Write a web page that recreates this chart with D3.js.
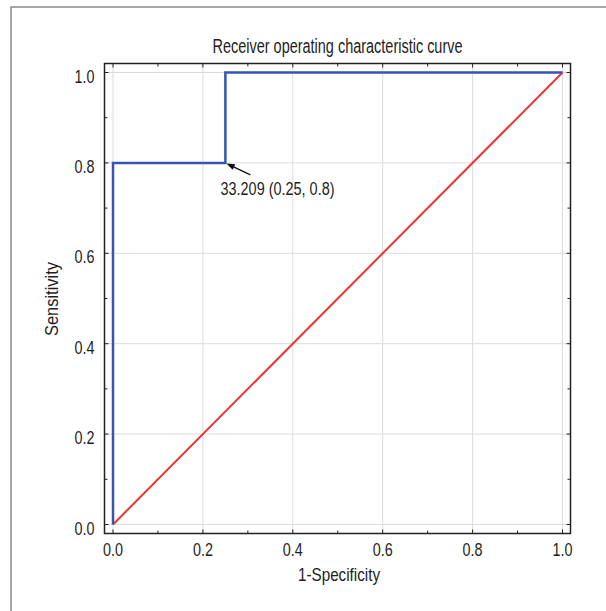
<!DOCTYPE html>
<html>
<head>
<meta charset="utf-8">
<script src="https://cdn.jsdelivr.net/npm/d3@7"></script>
<style>
  html, body { margin: 0; padding: 0; background: #fff; }
  svg { display: block; }
  text { font-family: "Liberation Sans", Arial, sans-serif; fill: #1e1e1e; }
</style>
</head>
<body>
<svg id="chart" width="606" height="611"></svg>
<script>
// ROC curve points (1-specificity, sensitivity)
const rocFpr = [0, 0, 0.25, 0.25, 1];
const rocTpr = [0, 0.8, 0.8, 1, 1];
// Reference diagonal
const diagFpr = [0, 1];
const diagTpr = [0, 1];
// Axis ticks
const majorTicks = [0, 0.2, 0.4, 0.6, 0.8, 1.0];
const minorTicks = [0.1, 0.3, 0.5, 0.7, 0.9];
// Cut-off annotation
const cutoffLabel = "33.209 (0.25, 0.8)";
const cutoffPoint = [0.25, 0.8];

const svg = d3.select("#chart");

// condensed text helper: squeeze glyphs to a given width
function condensed(sel, width) {
  return sel.attr("textLength", width).attr("lengthAdjust", "spacingAndGlyphs");
}

// outer frame
svg.append("rect")
  .attr("x", 11).attr("y", 7).attr("width", 620).attr("height", 620)
  .attr("fill", "none").attr("stroke", "#8a8a8a").attr("stroke-width", 1.5);

const plot = { left: 104.5, top: 63.5, right: 570.5, bottom: 533.5 };
const x = d3.scaleLinear().domain([0, 1]).range([113, 562.5]);
const y = d3.scaleLinear().domain([0, 1]).range([524.5, 72.5]);

// grid
const grid = svg.append("g").attr("stroke", "#dcdcdc").attr("stroke-width", 1);
grid.selectAll(".gx").data(majorTicks).join("line")
  .attr("x1", d => x(d)).attr("x2", d => x(d))
  .attr("y1", plot.top).attr("y2", plot.bottom);
grid.selectAll(".gy").data(majorTicks).join("line")
  .attr("y1", d => y(d)).attr("y2", d => y(d))
  .attr("x1", plot.left).attr("x2", plot.right);

// inward ticks on all four sides
function tickSet(vals, len) {
  const t = svg.append("g").attr("stroke", "#222").attr("stroke-width", 1);
  t.selectAll(null).data(vals).join("line")
    .attr("x1", d => x(d)).attr("x2", d => x(d))
    .attr("y1", plot.bottom).attr("y2", plot.bottom - len);
  t.selectAll(null).data(vals).join("line")
    .attr("x1", d => x(d)).attr("x2", d => x(d))
    .attr("y1", plot.top).attr("y2", plot.top + len);
  t.selectAll(null).data(vals).join("line")
    .attr("y1", d => y(d)).attr("y2", d => y(d))
    .attr("x1", plot.left).attr("x2", plot.left + len);
  t.selectAll(null).data(vals).join("line")
    .attr("y1", d => y(d)).attr("y2", d => y(d))
    .attr("x1", plot.right).attr("x2", plot.right - len);
}
tickSet(majorTicks, 4);
tickSet(minorTicks, 3);

// tick labels
const fmt = d3.format(".1f");
condensed(svg.append("g").selectAll("text").data(majorTicks).join("text")
  .attr("x", d => x(d) - 10).attr("y", 555.5)
  .attr("font-size", 18.5)
  .text(d => fmt(d)), 20);
condensed(svg.append("g").selectAll("text").data(majorTicks).join("text")
  .attr("x", 74.5).attr("y", d => y(d) + 10)
  .attr("font-size", 18.5)
  .text(d => fmt(d)), 20);

// curves
const line = d3.line().x(d => x(d[0])).y(d => y(d[1]));
svg.append("path")
  .datum(diagFpr.map((v, i) => [v, diagTpr[i]]))
  .attr("d", line).attr("fill", "none")
  .attr("stroke", "#ee3333").attr("stroke-width", 2);
svg.append("path")
  .datum(rocFpr.map((v, i) => [v, rocTpr[i]]))
  .attr("d", line).attr("fill", "none")
  .attr("stroke", "#3556b0").attr("stroke-width", 2.5);

// plot frame
svg.append("rect")
  .attr("x", plot.left).attr("y", plot.top)
  .attr("width", plot.right - plot.left).attr("height", plot.bottom - plot.top)
  .attr("fill", "none").attr("stroke", "#222").attr("stroke-width", 1.5);

// annotation arrow
const px = x(cutoffPoint[0]), py = y(cutoffPoint[1]);
const tx = px + 25, ty = py + 12;
svg.append("line")
  .attr("x1", tx).attr("y1", ty).attr("x2", px + 4).attr("y2", py + 2)
  .attr("stroke", "#111").attr("stroke-width", 1.3);
const ang = Math.atan2(ty - py, tx - px);
const head = [
  [px + 1, py + 0.5],
  [px + 1 + 9 * Math.cos(ang - 0.35), py + 0.5 + 9 * Math.sin(ang - 0.35)],
  [px + 1 + 9 * Math.cos(ang + 0.35), py + 0.5 + 9 * Math.sin(ang + 0.35)]
];
svg.append("path").attr("d", "M" + head.join("L") + "Z").attr("fill", "#111");
condensed(svg.append("text")
  .attr("x", 220.5).attr("y", 195)
  .attr("font-size", 18)
  .text(cutoffLabel), 114);

// titles
condensed(svg.append("text").attr("x", 212.5).attr("y", 52.5)
  .attr("font-size", 19.5)
  .text("Receiver operating characteristic curve"), 250);
condensed(svg.append("text").attr("x", 298).attr("y", 581)
  .attr("font-size", 19)
  .text("1-Specificity"), 82);
condensed(svg.append("text")
  .attr("transform", "translate(58,336) rotate(-90)")
  .attr("font-size", 19)
  .text("Sensitivity"), 74);
</script>
</body>
</html>
